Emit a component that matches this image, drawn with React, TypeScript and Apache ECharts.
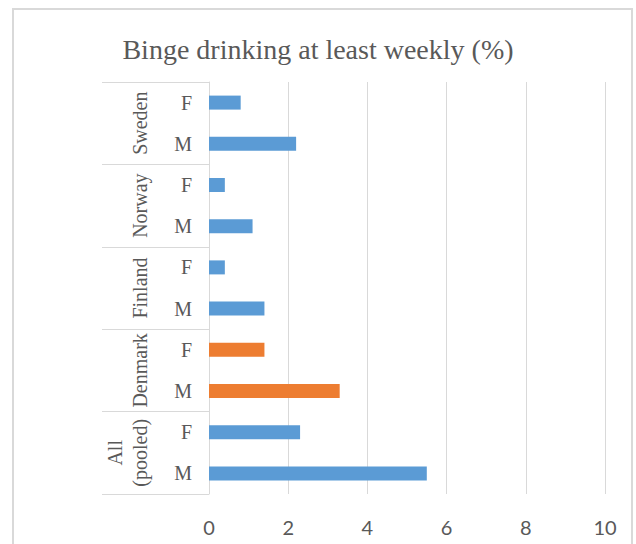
import React, { useEffect, useRef } from "react";
import * as echarts from "echarts";

const title = "Binge drinking at least weekly (%)";
const groups = ["Sweden", "Norway", "Finland", "Denmark", "All\n(pooled)"];
const sexes = ["F", "M", "F", "M", "F", "M", "F", "M", "F", "M"];
const rowGroup = [0, 0, 1, 1, 2, 2, 3, 3, 4, 4];
const values = [0.8, 2.2, 0.4, 1.1, 0.4, 1.4, 1.4, 3.3, 2.3, 5.5];
const highlightGroup = 3;
const xTicks = { min: 0, max: 10, interval: 2 };

const BLUE = "#5B9BD5";
const ORANGE = "#ED7D31";
const GRID = "#D9D9D9";
const TEXT = "#595959";
const SERIF = "Liberation Serif";

export default function App() {
  const ref = useRef<HTMLDivElement>(null);
  useEffect(() => {
    if (!ref.current) return;
    const chart = echarts.init(ref.current, undefined, { renderer: "svg" });
    chart.setOption({
      animation: false,
      backgroundColor: "#fff",
      title: {
        text: title,
        left: "center",
        top: 30,
        textStyle: { fontFamily: SERIF, fontSize: 28, fontWeight: "normal", color: TEXT },
      },
      graphic: [
        {
          type: "rect",
          shape: { x: 13, y: 9, width: 619, height: 600 },
          style: { fill: "none", stroke: GRID, lineWidth: 2 },
          silent: true,
        },
      ],
      grid: { left: 209, right: 31, top: 82, bottom: 50, containLabel: false },
      xAxis: {
        type: "value",
        min: xTicks.min,
        max: xTicks.max,
        interval: xTicks.interval,
        axisLine: { show: false },
        axisTick: { show: false },
        splitLine: { show: true, lineStyle: { color: GRID, width: 1 } },
        axisLabel: { color: TEXT, fontSize: 20, fontFamily: "Lato", margin: 23 },
      },
      yAxis: [
        {
          type: "category",
          data: sexes,
          inverse: true,
          axisLine: { show: true, lineStyle: { color: GRID, width: 1 } },
          axisTick: { show: false },
          axisLabel: { color: TEXT, fontSize: 20, fontFamily: SERIF, margin: 17, interval: 0 },
        },
        {
          type: "category",
          data: groups,
          inverse: true,
          position: "left",
          offset: 0,
          axisLine: { show: false },
          axisTick: { show: true, length: 107, interval: 0, lineStyle: { color: GRID, width: 1 } },
          axisLabel: {
            color: TEXT,
            fontSize: 20,
            fontFamily: SERIF,
            rotate: 90,
            margin: 57,
            interval: 0,
            lineHeight: 25,
          },
        },
      ],
      series: [
        {
          type: "bar",
          yAxisIndex: 0,
          barWidth: 14,
          data: values.map((v, i) => ({
            value: v,
            itemStyle: { color: rowGroup[i] === highlightGroup ? ORANGE : BLUE },
          })),
        },
      ],
    });
    return () => chart.dispose();
  }, []);
  return (
    <div
      ref={ref}
      style={{ position: "fixed", left: 0, top: 0, width: 636, height: 544 }}
    />
  );
}
